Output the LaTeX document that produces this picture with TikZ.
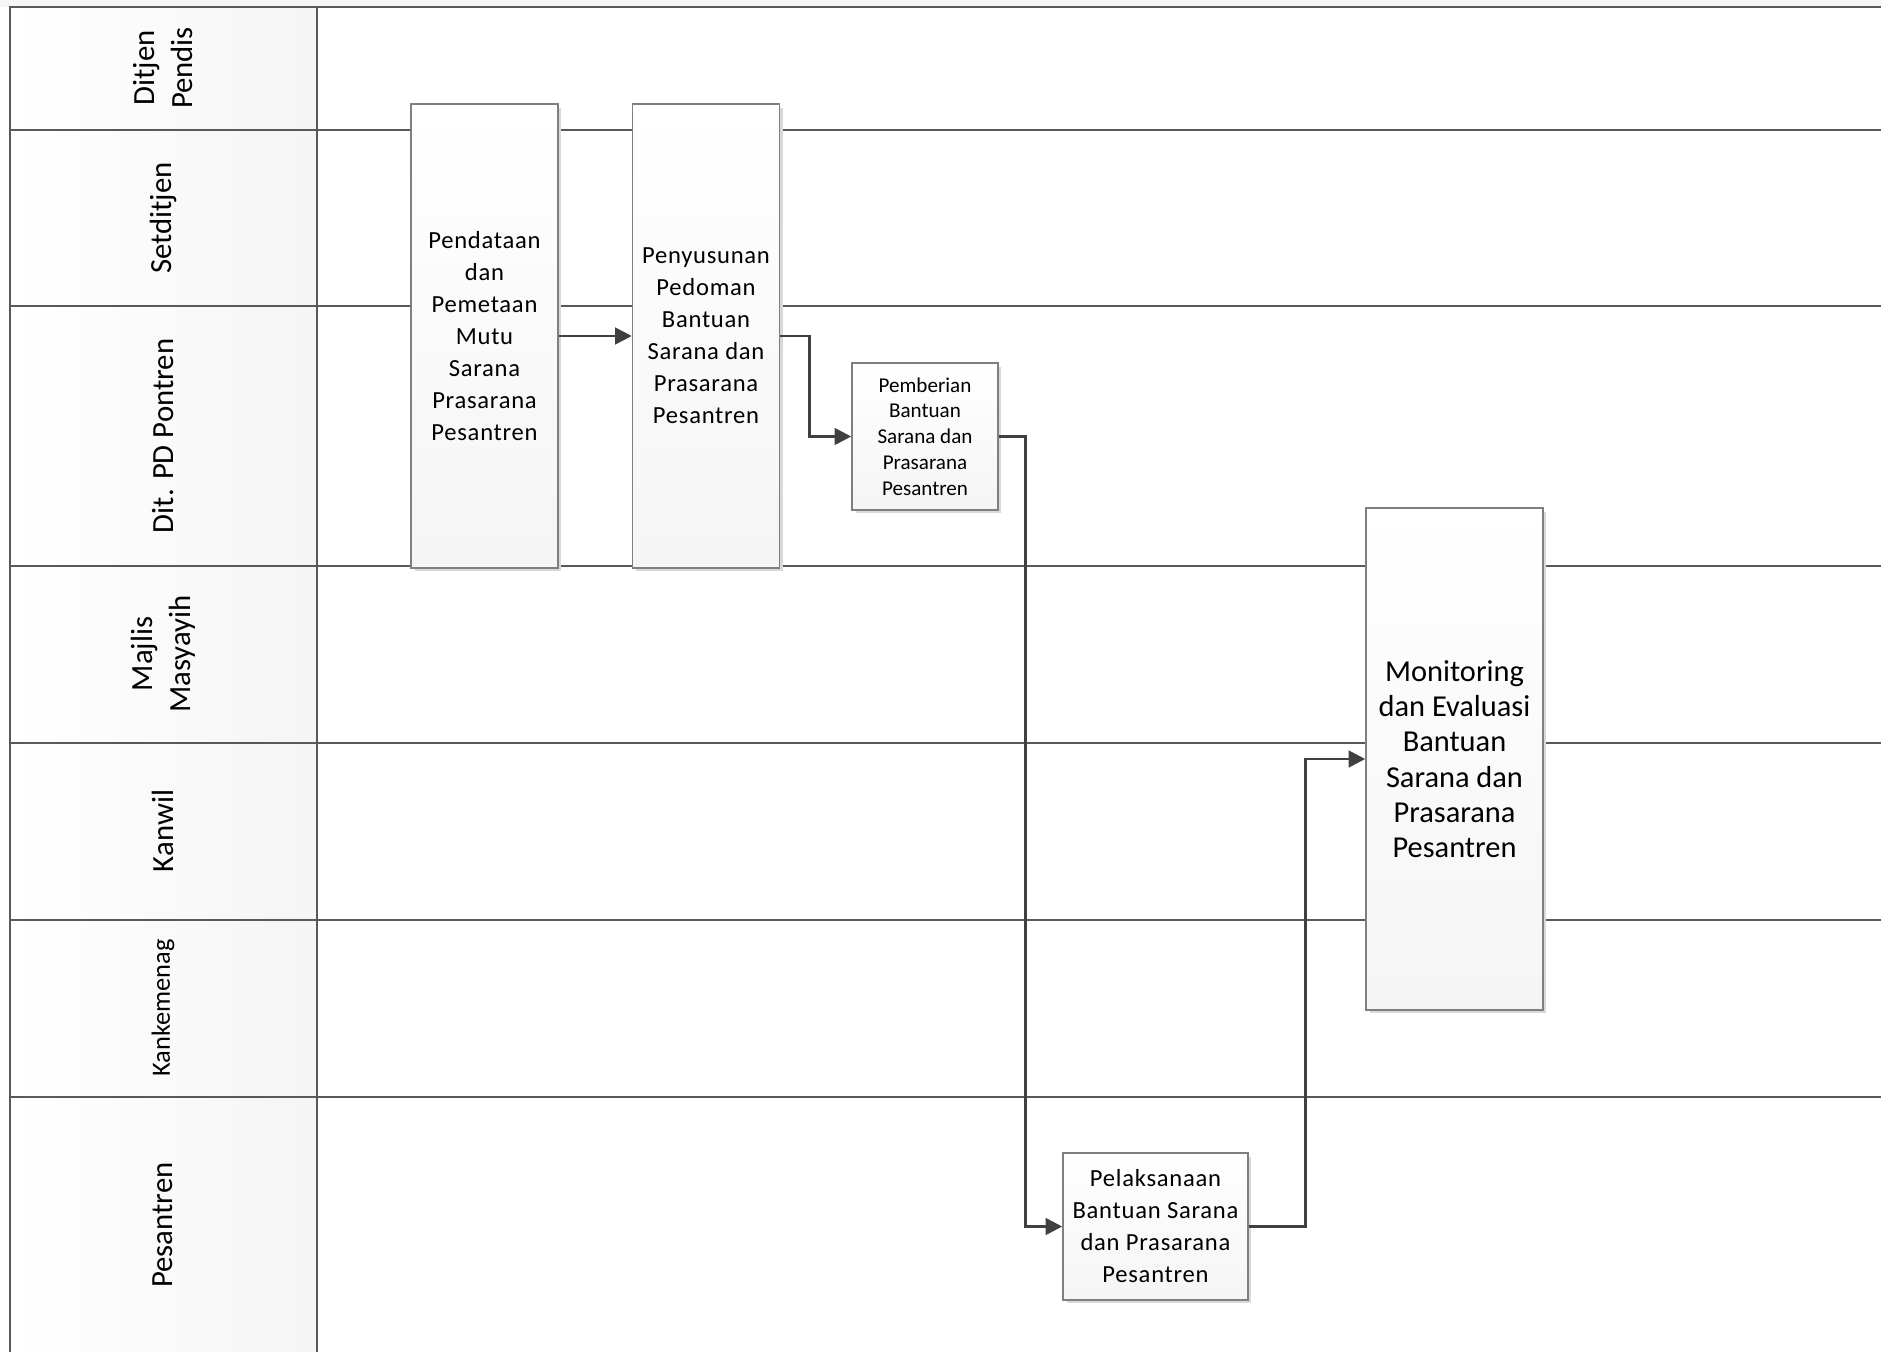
\documentclass[tikz,border=0pt]{standalone}
\usepackage{fontspec}
\setmainfont{Carlito}
\newfontfamily\spaced{Carlito}[LetterSpace=3]
\usepackage{tikz}
\usetikzlibrary{arrows.meta, positioning, shadows}
\definecolor{lanegray}{HTML}{595959}
\definecolor{linkgray}{HTML}{404040}
\definecolor{boxgray}{HTML}{7F7F7F}

\begin{document}
\begin{tikzpicture}[
  x=0.02cm, y=-0.02cm,
  lane/.style={draw=lanegray, line width=1.25pt},
  lanelabel/.style={rotate=90, align=center, font=\fontsize{17.5}{21.6}\selectfont},
  task/.style={rectangle, draw=boxgray, line width=0.9pt, top color=white,
               bottom color=gray!8, text centered, align=center, inner sep=2pt,
               font=\spaced\fontsize{14}{18.2}\selectfont,
               drop shadow={shadow xshift=0.07cm, shadow yshift=-0.07cm,
                            fill=black!15, opacity=1}},
  arrow/.style={-{Triangle[length=9.5pt,width=9.5pt]}, draw=linkgray, line width=1.6pt}
]
\useasboundingbox (0,0) rectangle (1881,1352);

\fill[gray!8] (0,0) rectangle (1881,7);
\shade[left color=white, right color=gray!8] (10,7) rectangle (317,1352);
\draw[lane] (10,1352) -- (10,7) -- (1881,7);
\draw[lane] (317,7) -- (317,1352);
\foreach \y in {130,306,566,743,920,1097}
  \draw[lane] (10,\y) -- (1881,\y);

\node[lanelabel] (ditjen) at (163,68) {Ditjen\\Pendis};
\node[lanelabel] (setditjen) at (163,218) {Setditjen};
\node[lanelabel] (pontren) at (163,436) {Dit. PD Pontren};
\node[lanelabel] (majlis) at (163,654) {Majlis\\Masyayih};
\node[lanelabel] (kanwil) at (163,831) {Kanwil};
\node[lanelabel, font=\fontsize{15}{18}\selectfont] (kankemenag) at (163,1008) {Kankemenag};
\node[lanelabel] (pesantren) at (163,1225) {Pesantren};

\node[task, minimum width=2.94cm, minimum height=9.28cm] (pdt) at (484.5,336)
  {Pendataan\\dan\\Pemetaan\\Mutu\\Sarana\\Prasarana\\Pesantren};
\node[task, minimum width=2.94cm, minimum height=9.28cm, right=1.46cm of pdt] (pnys)
  {Penyusunan\\Pedoman\\Bantuan\\Sarana dan\\Prasarana\\Pesantren};
\node[task, minimum width=2.92cm, minimum height=2.94cm, font=\fontsize{12}{14.7}\selectfont] (pmb) at (925,436.5)
  {Pemberian\\Bantuan\\Sarana dan\\Prasarana\\Pesantren};
\node[task, minimum width=3.7cm, minimum height=2.94cm] (plk) at (1155.5,1226.5)
  {Pelaksanaan\\Bantuan Sarana\\dan Prasarana\\Pesantren};
\node[task, minimum width=3.54cm, minimum height=10.04cm, font=\fontsize{17.3}{20.1}\selectfont] (monev) at (1454.5,759)
  {Monitoring\\dan Evaluasi\\Bantuan\\Sarana dan\\Prasarana\\Pesantren};

\draw[arrow] (pdt) -- (pnys);
\draw[arrow] (pnys.east) -- ++(29,0) |- (pmb);
\draw[arrow] (pmb.east) -- ++(27,0) |- (plk);
\draw[arrow] (plk.east) -- ++(57,0) |- (monev);

\end{tikzpicture}
\end{document}
